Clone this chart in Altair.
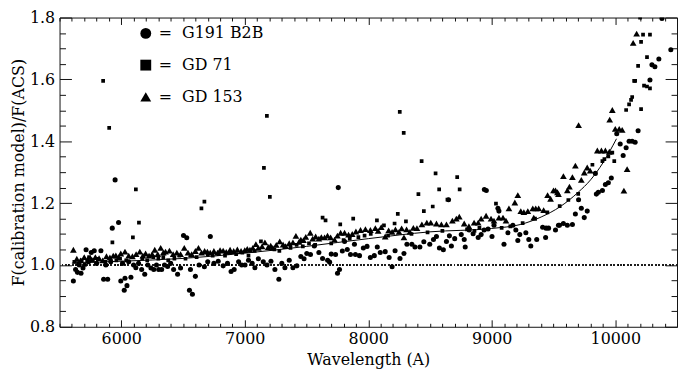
import altair as alt
import pandas as pd

STARS = ["G191 B2B", "GD 71", "GD 153"]
SHAPES = ["circle", "square", "triangle-up"]
SIZES = [26, 14, 46]

# (wavelength [A], F(calibration model)/F(ACS))
G191_B2B = [
    (5612, 0.948), (5630, 0.985), (5645, 0.976), (5660, 1.000), (5674, 0.973), (5690, 0.990),
    (5715, 1.049), (5735, 1.010), (5757, 1.040), (5781, 1.046), (5800, 1.005), (5835, 1.046),
    (5857, 0.954), (5875, 1.000), (5890, 0.954), (5915, 1.010), (5927, 1.119), (5950, 1.275),
    (5978, 1.137), (5996, 0.948), (6010, 1.005), (6024, 0.918), (6030, 0.957), (6046, 0.933),
    (6060, 1.010), (6078, 0.960), (6100, 1.000), (6118, 0.991), (6140, 1.005), (6165, 0.985),
    (6190, 0.970), (6215, 1.000), (6240, 0.990), (6263, 0.985), (6285, 1.000), (6303, 0.985),
    (6327, 0.985), (6350, 1.000), (6375, 0.995), (6400, 1.005), (6424, 0.985), (6456, 0.970),
    (6480, 0.990), (6504, 1.095), (6530, 1.088), (6552, 0.918), (6560, 0.985), (6576, 0.905),
    (6600, 0.963), (6630, 1.000), (6673, 0.994), (6700, 1.010), (6721, 1.092), (6750, 1.005),
    (6785, 1.012), (6825, 0.997), (6860, 1.005), (6889, 0.979), (6914, 0.985), (6950, 1.010),
    (6975, 1.000), (7002, 1.000), (7030, 1.015), (7060, 1.005), (7082, 0.991), (7110, 1.020),
    (7150, 1.010), (7180, 1.000), (7212, 1.012), (7244, 0.985), (7276, 0.954), (7300, 1.005),
    (7325, 0.991), (7360, 1.015), (7390, 0.991), (7422, 0.997), (7454, 1.027), (7480, 1.020),
    (7502, 1.037), (7532, 1.034), (7563, 1.061), (7600, 1.040), (7630, 1.021), (7671, 1.015),
    (7687, 1.009), (7700, 1.035), (7735, 1.034), (7751, 0.973), (7757, 1.250), (7767, 0.985),
    (7790, 1.045), (7808, 1.076), (7830, 1.050), (7856, 1.034), (7888, 1.067), (7896, 1.034),
    (7929, 1.030), (7960, 1.055), (7990, 1.060), (8017, 1.024), (8049, 1.030), (8073, 1.058),
    (8097, 1.040), (8137, 1.043), (8169, 1.024), (8193, 0.994), (8217, 1.046), (8257, 1.021),
    (8289, 1.037), (8313, 1.067), (8353, 1.067), (8378, 1.058), (8418, 1.058), (8450, 1.075),
    (8498, 1.067), (8528, 1.082), (8552, 1.092), (8576, 1.055), (8608, 1.049), (8633, 1.076),
    (8650, 1.211), (8657, 1.094), (8673, 1.061), (8700, 1.085), (8753, 1.098), (8777, 1.082),
    (8785, 1.058), (8817, 1.113), (8849, 1.101), (8890, 1.089), (8914, 1.098), (8938, 1.113),
    (8940, 1.244), (8956, 1.241), (8970, 1.116), (9002, 1.092), (9018, 1.128), (9050, 1.183),
    (9058, 1.174), (9099, 1.067), (9131, 1.104), (9171, 1.128), (9195, 1.113), (9211, 1.079),
    (9227, 1.098), (9276, 1.104), (9300, 1.082), (9316, 1.061), (9364, 1.082), (9412, 1.122),
    (9436, 1.089), (9440, 1.119), (9460, 1.119), (9516, 1.113), (9540, 1.128), (9548, 1.128),
    (9580, 1.134), (9612, 1.128), (9653, 1.131), (9677, 1.165), (9703, 1.211), (9725, 1.183),
    (9749, 1.153), (9773, 1.174), (9839, 1.296), (9847, 1.229), (9863, 1.235), (9896, 1.241),
    (9920, 1.260), (9944, 1.266), (9968, 1.281), (10012, 1.424), (10040, 1.391), (10064, 1.354),
    (10088, 1.379), (10112, 1.400), (10137, 1.400), (10161, 1.397), (10185, 1.434), (10281, 1.598),
    (10297, 1.647), (10321, 1.641), (10353, 1.666), (10378, 1.797), (10450, 1.696),
]

GD_71 = [
    (5620, 1.010), (5650, 1.005), (5680, 1.015), (5705, 1.000), (5740, 1.025), (5770, 1.015),
    (5810, 1.020), (5853, 1.595), (5870, 1.010), (5902, 1.443), (5928, 1.073), (5960, 1.015),
    (5990, 1.020), (6040, 1.015), (6094, 1.089), (6118, 1.244), (6143, 1.137), (6170, 1.020),
    (6210, 1.015), (6260, 1.025), (6300, 1.020), (6340, 1.025), (6380, 1.015), (6430, 1.020),
    (6470, 1.030), (6520, 1.020), (6560, 1.030), (6610, 1.025), (6649, 1.183), (6673, 1.205),
    (6700, 1.035), (6740, 1.030), (6790, 1.035), (6840, 1.030), (6880, 1.040), (6930, 1.035),
    (6980, 1.040), (7030, 1.030), (7080, 1.045), (7131, 1.076), (7155, 1.314), (7179, 1.482),
    (7203, 1.220), (7240, 1.050), (7280, 1.045), (7320, 1.060), (7370, 1.055), (7420, 1.065),
    (7470, 1.060), (7520, 1.070), (7570, 1.065), (7630, 1.153), (7654, 1.144), (7700, 1.070),
    (7773, 1.131), (7800, 1.080), (7850, 1.085), (7878, 1.150), (7920, 1.090), (7970, 1.095),
    (8020, 1.100), (8070, 1.144), (8127, 1.128), (8160, 1.095), (8213, 1.134), (8239, 1.165),
    (8255, 1.495), (8287, 1.427), (8305, 1.141), (8350, 1.100), (8406, 1.229), (8432, 1.336),
    (8450, 1.174), (8480, 1.105), (8522, 1.189), (8545, 1.296), (8574, 1.244), (8600, 1.110),
    (8641, 1.211), (8720, 1.284), (8740, 1.244), (8800, 1.115), (8860, 1.110), (8900, 1.120),
    (9034, 1.198), (9080, 1.120), (9150, 1.125), (9250, 1.135), (9350, 1.150), (9450, 1.170),
    (9550, 1.190), (9620, 1.210), (9700, 1.230), (9815, 1.324), (9896, 1.336), (9912, 1.342),
    (9944, 1.351), (9976, 1.363), (9992, 1.336), (10088, 1.501), (10112, 1.519), (10128, 1.534),
    (10137, 1.543), (10153, 1.595), (10161, 1.595), (10185, 1.644), (10201, 1.800), (10209, 1.504),
    (10209, 1.721), (10225, 1.745), (10233, 1.580), (10257, 1.577), (10257, 1.672), (10281, 1.745),
    (10281, 1.571),
]

GD_153 = [
    (5612, 1.049), (5640, 1.020), (5670, 1.015), (5700, 1.025), (5730, 1.020), (5760, 1.018),
    (5790, 1.025), (5820, 1.022), (5850, 1.015), (5880, 1.028), (5908, 1.024), (5935, 1.030),
    (5956, 1.031), (5980, 1.025), (5996, 1.037), (6030, 1.043), (6060, 1.030), (6090, 1.028),
    (6120, 1.035), (6150, 1.043), (6175, 1.030), (6197, 1.037), (6225, 1.030), (6250, 1.035),
    (6271, 1.049), (6295, 1.035), (6319, 1.055), (6340, 1.040), (6358, 1.043), (6390, 1.046),
    (6420, 1.035), (6450, 1.040), (6480, 1.035), (6510, 1.055), (6540, 1.040), (6570, 1.035),
    (6600, 1.045), (6625, 1.055), (6650, 1.040), (6675, 1.045), (6697, 1.043), (6720, 1.040),
    (6750, 1.045), (6780, 1.040), (6800, 1.048), (6825, 1.046), (6850, 1.042), (6881, 1.049),
    (6910, 1.045), (6940, 1.050), (6970, 1.045), (7000, 1.048), (7020, 1.052), (7042, 1.049),
    (7065, 1.055), (7090, 1.067), (7110, 1.055), (7140, 1.060), (7163, 1.073), (7190, 1.058),
    (7210, 1.062), (7227, 1.055), (7255, 1.065), (7283, 1.076), (7310, 1.066), (7331, 1.061),
    (7360, 1.070), (7390, 1.073), (7414, 1.094), (7440, 1.075), (7454, 1.082), (7475, 1.080),
    (7494, 1.091), (7530, 1.104), (7550, 1.085), (7574, 1.092), (7600, 1.085), (7620, 1.090),
    (7646, 1.089), (7670, 1.095), (7695, 1.089), (7727, 1.082), (7750, 1.095), (7776, 1.104),
    (7808, 1.104), (7840, 1.098), (7870, 1.100), (7900, 1.108), (7937, 1.113), (7977, 1.116),
    (8017, 1.113), (8057, 1.119), (8080, 1.110), (8105, 1.122), (8137, 1.092), (8165, 1.112),
    (8193, 1.107), (8220, 1.115), (8249, 1.107), (8270, 1.118), (8289, 1.089), (8310, 1.115),
    (8337, 1.107), (8365, 1.120), (8394, 1.119), (8434, 1.131), (8474, 1.137), (8506, 1.137),
    (8552, 1.134), (8592, 1.131), (8633, 1.131), (8681, 1.143), (8713, 1.150), (8737, 1.156),
    (8777, 1.134), (8815, 1.125), (8857, 1.137), (8890, 1.137), (8914, 1.150), (8954, 1.159),
    (8994, 1.150), (9018, 1.143), (9058, 1.153), (9091, 1.153), (9115, 1.143), (9139, 1.183),
    (9187, 1.202), (9211, 1.226), (9235, 1.174), (9260, 1.171), (9292, 1.174), (9332, 1.183),
    (9340, 1.153), (9356, 1.183), (9380, 1.183), (9420, 1.177), (9452, 1.226), (9476, 1.214),
    (9500, 1.241), (9516, 1.241), (9532, 1.235), (9540, 1.229), (9580, 1.287), (9612, 1.241),
    (9629, 1.253), (9653, 1.284), (9677, 1.321), (9703, 1.452), (9725, 1.275), (9749, 1.299),
    (9773, 1.315), (9797, 1.305), (9855, 1.370), (9888, 1.370), (9920, 1.370), (9952, 1.366),
    (9955, 1.470), (9976, 1.501), (10000, 1.440), (10032, 1.440), (10056, 1.437), (10070, 1.240),
    (10096, 1.310), (10145, 1.718), (10173, 1.748),
]

FIT_WAVE = [5600, 6000, 6500, 7000, 7500, 8000, 8500, 9000, 9235, 9400, 9556, 9700, 9800, 9900, 10010]
FIT_RATIO = [1.006, 1.012, 1.021, 1.038, 1.060, 1.085, 1.107, 1.118, 1.131, 1.155, 1.189, 1.235, 1.275, 1.330, 1.408]

REFERENCE_LEVEL = 1.0
X_DOMAIN = [5500, 10500]
Y_DOMAIN = [0.8, 1.8]
X_TICKS = list(range(5500, 10501, 100))
Y_TICKS = [round(0.8 + 0.05 * i, 2) for i in range(21)]

FONT = "DejaVu Serif"

rows = []
for name, size, pts in zip(STARS, SIZES, [G191_B2B, GD_71, GD_153]):
    for w, r in pts:
        rows.append({"wave": w, "ratio": r, "star": name, "sz": size})
points_df = pd.DataFrame(rows)
fit_df = pd.DataFrame({"wave": FIT_WAVE, "ratio": FIT_RATIO})

xs = alt.Scale(domain=X_DOMAIN, nice=False, zero=False)
ys = alt.Scale(domain=Y_DOMAIN, nice=False, zero=False)

x_major = "datum.value % 1000 === 0"
y_major = "abs(datum.value * 5 - round(datum.value * 5)) < 1e-6"

x_bottom = alt.Axis(
    orient="bottom", values=X_TICKS, format="d",
    labelExpr=f"{x_major} ? datum.label : ''",
    tickSize=alt.ExprRef(f"{x_major} ? -7 : -3.5"),
    labelPadding=11, labelOverlap=False, labelFlush=False,
    domain=False, grid=False, titlePadding=2,
)
x_top = alt.Axis(
    orient="top", values=X_TICKS, labels=False,
    tickSize=alt.ExprRef(f"{x_major} ? -7 : -3.5"),
    domain=False, grid=False,
)
y_left = alt.Axis(
    orient="left", values=Y_TICKS,
    labelExpr=f"{y_major} ? format(datum.value, '.1f') : ''",
    tickSize=alt.ExprRef(f"{y_major} ? -12 : -6"),
    labelPadding=17, labelOverlap=False, labelFlush=False,
    domain=False, grid=False, titlePadding=3,
)
y_right = alt.Axis(
    orient="right", values=Y_TICKS, labels=False,
    tickSize=alt.ExprRef(f"{y_major} ? -12 : -6"),
    domain=False, grid=False,
)

rule = alt.Chart(points_df).mark_rule(
    color="#222", strokeWidth=1, strokeDash=[1, 2.5]
).encode(y=alt.YDatum(REFERENCE_LEVEL, scale=ys, axis=None))

points = alt.Chart(points_df).mark_point(
    filled=True, opacity=1, color="black", clip=True
).encode(
    x=alt.X("wave:Q", scale=xs, axis=x_bottom, title="Wavelength (A)"),
    y=alt.Y("ratio:Q", scale=ys, axis=y_left, title="F(calibration model)/F(ACS)"),
    shape=alt.Shape(
        "star:N",
        scale=alt.Scale(domain=STARS, range=SHAPES),
        legend=alt.Legend(
            orient="none", legendX=79, legendY=8, title=None,
            labelExpr="'=\u00a0 ' + datum.label",
            symbolSize=120, symbolFillColor="black", symbolStrokeWidth=0,
            rowPadding=16, labelOffset=5, padding=0,
        ),
    ),
    size=alt.Size("sz:Q", scale=None),
)

fit = alt.Chart(fit_df).mark_line(
    color="black", strokeWidth=1, interpolate="monotone", clip=True
).encode(
    x=alt.X("wave:Q", scale=xs, axis=x_top, title=None),
    y=alt.Y("ratio:Q", scale=ys, axis=y_right, title=None),
)

chart = alt.layer(rule, points, fit).resolve_axis(
    x="independent", y="independent"
).properties(
    width=623, height=312,
    autosize=alt.AutoSizeParams(type="none"),
    padding={"left": 52, "top": 8, "right": 1, "bottom": 44},
).configure_view(
    stroke="#111", strokeWidth=1
).configure_axis(
    labelFont=FONT, labelFontSize=16, labelColor="black",
    titleFont=FONT, titleFontSize=16, titleFontWeight="normal", titleColor="black",
    tickColor="#111", tickWidth=1,
).configure_legend(
    labelFont=FONT, labelFontSize=16, labelColor="black",
)

chart.save("out.html", embed_options={"renderer": "svg", "actions": False})
